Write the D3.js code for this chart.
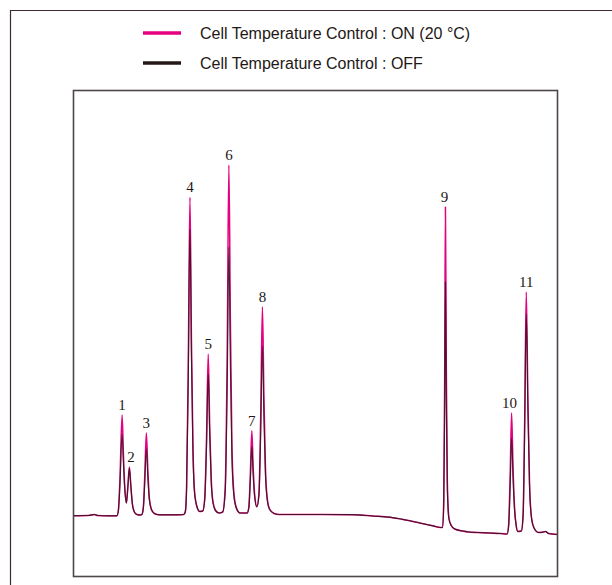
<!DOCTYPE html>
<html>
<head>
<meta charset="utf-8">
<script src="https://cdn.jsdelivr.net/npm/d3@7"></script>
<style>
  html, body { margin: 0; padding: 0; background: #ffffff; }
  svg { display: block; }
</style>
</head>
<body>
<script>
'use strict';

// retention time (min) and detector signal
const seriesNames = ['Cell Temperature Control : ON (20 °C)', 'Cell Temperature Control : OFF'];
const seriesColors = ['#e4007f', '#231815'];

// Cell Temperature Control : ON (20 °C)
const onPoints = [
  [0, 0.03], [1.5, 0.05], [1.9, 0.12], [2.1, 0.15], [2.4, 0.05], [3.5, 0.02], [4.35, 0.02],
  [4.5, 0.6], [4.65, 3.6], [4.87, 10.1], [5.0, 6.2], [5.15, 2.7], [5.3, 1.3], [5.45, 3.0], [5.6, 4.9],
  [5.75, 3.0], [5.9, 1.2], [6.1, 0.4], [6.35, 0.15], [6.7, 0.1],
  [6.85, 0.15], [7.0, 0.9], [7.15, 4.3], [7.3, 8.3], [7.45, 4.6], [7.6, 1.8], [7.8, 0.7], [8.1, 0.25], [8.6, 0.12],
  [10.5, 0.12], [11.05, 0.15],
  [11.2, 0.4], [11.33, 2.8], [11.5, 15.0], [11.67, 31.87], [11.82, 17.5], [11.97, 7.0], [12.12, 2.6], [12.35, 1.0], [12.65, 0.45],
  [12.95, 0.5], [13.15, 1.8], [13.33, 7.8], [13.5, 16.2], [13.65, 9.0], [13.8, 3.8], [13.98, 1.4], [14.25, 0.55], [14.6, 0.3],
  [14.95, 0.4], [15.2, 2.8], [15.4, 16.0], [15.57, 35.1], [15.72, 19.5], [15.87, 7.5], [16.05, 2.6], [16.3, 0.9], [16.7, 0.3],
  [17.4, 0.3], [17.57, 0.9], [17.72, 4.2], [17.87, 8.53], [18.0, 5.0], [18.15, 2.2], [18.37, 0.95],
  [18.58, 2.2], [18.76, 10.0], [18.93, 20.93], [19.08, 12.0], [19.23, 5.0], [19.4, 1.9], [19.65, 0.7], [20.1, 0.25], [20.6, 0.15],
  [22, 0.15], [25, 0.15], [28, 0.13], [30, 0.0], [31.7, -0.12], [33.3, -0.4], [34.7, -0.7], [36, -0.98], [36.8, -1.15],
  [36.98, -1.15], [37.1, 1.6], [37.19, 13.0], [37.27, 30.9], [37.36, 14.5], [37.46, 3.5], [37.62, -0.2], [37.85, -0.95],
  [38.2, -1.3], [39.0, -1.5], [39.6, -1.6], [40.5, -1.65], [41.7, -1.7], [42.8, -1.75], [43.45, -1.8],
  [43.6, -0.9], [43.76, 4.2], [43.9, 10.3], [44.04, 5.0], [44.2, 0.8], [44.37, -1.0], [44.53, -1.55],
  [44.88, -1.5], [45.05, 0.1], [45.21, 9.5], [45.37, 22.4], [45.53, 12.0], [45.7, 3.2], [45.9, -0.2], [46.15, -1.2],
  [46.6, -1.65], [47.0, -1.62], [47.3, -1.55], [47.6, -1.75], [48.5, -1.85]
];

// Cell Temperature Control : OFF
const offPoints = [
  [0, 0.03], [1.5, 0.05], [1.9, 0.12], [2.1, 0.15], [2.4, 0.05], [3.5, 0.02], [4.35, 0.02],
  [4.5, 0.55], [4.65, 3.0], [4.87, 8.2], [5.0, 5.3], [5.15, 2.5], [5.3, 1.3], [5.45, 2.9], [5.6, 4.8],
  [5.75, 2.9], [5.9, 1.2], [6.1, 0.4], [6.35, 0.15], [6.7, 0.1],
  [6.85, 0.15], [7.0, 0.8], [7.15, 3.5], [7.3, 6.7], [7.45, 3.8], [7.6, 1.6], [7.8, 0.65], [8.1, 0.25], [8.6, 0.12],
  [10.5, 0.12], [11.05, 0.15],
  [11.2, 0.4], [11.33, 2.6], [11.5, 13.6], [11.67, 28.67], [11.82, 15.8], [11.97, 6.4], [12.12, 2.4], [12.35, 1.0], [12.65, 0.45],
  [12.95, 0.5], [13.15, 1.6], [13.33, 6.9], [13.5, 14.2], [13.65, 8.0], [13.8, 3.4], [13.98, 1.3], [14.25, 0.5], [14.6, 0.3],
  [14.95, 0.4], [15.2, 2.3], [15.4, 12.6], [15.57, 26.9], [15.72, 15.2], [15.87, 6.0], [16.05, 2.2], [16.3, 0.8], [16.7, 0.3],
  [17.4, 0.3], [17.57, 0.8], [17.72, 3.5], [17.87, 6.93], [18.0, 4.1], [18.15, 1.9], [18.37, 0.9],
  [18.58, 2.0], [18.76, 8.3], [18.93, 17.0], [19.08, 9.8], [19.23, 4.2], [19.4, 1.7], [19.65, 0.65], [20.1, 0.25], [20.6, 0.15],
  [22, 0.15], [25, 0.15], [28, 0.13], [30, 0.0], [31.7, -0.12], [33.3, -0.4], [34.7, -0.7], [36, -0.98], [36.8, -1.15],
  [36.98, -1.15], [37.1, 1.1], [37.19, 9.8], [37.27, 23.4], [37.36, 11.2], [37.46, 2.7], [37.62, -0.3], [37.85, -0.95],
  [38.2, -1.3], [39.0, -1.5], [39.6, -1.6], [40.5, -1.65], [41.7, -1.7], [42.8, -1.75], [43.45, -1.8],
  [43.6, -1.1], [43.76, 3.0], [43.9, 7.8], [44.04, 3.8], [44.2, 0.5], [44.37, -1.05], [44.53, -1.55],
  [44.88, -1.5], [45.05, -0.1], [45.21, 8.5], [45.37, 20.2], [45.53, 10.8], [45.7, 2.9], [45.9, -0.25], [46.15, -1.2],
  [46.6, -1.65], [47.0, -1.62], [47.3, -1.55], [47.6, -1.75], [48.5, -1.85]
];

// peak numbers, apex times and the ON apex they sit on
const peakLabels = ['1', '2', '3', '4', '5', '6', '7', '8', '9', '10', '11'];
const peakTimes = [4.87, 5.6, 7.3, 11.67, 13.5, 15.57, 17.87, 18.93, 37.27, 43.9, 45.37];
const peakTops = [10.1, 4.9, 8.3, 31.87, 16.2, 35.1, 8.53, 20.93, 30.9, 10.3, 22.4];

(function() {
  let svgContainer = '';
  const width = 612, height = 585;
  const box = { left: 73.5, top: 90.5, right: 557.5, bottom: 576.5 };

  window.onload = function() {
    svgContainer = d3.select('body').append('svg')
      .attr('width', width)
      .attr('height', height);

    // outer frame (runs off the picture on the right and bottom)
    svgContainer.append('path')
      .attr('d', 'M10.5,' + height + 'V10.5H' + width)
      .attr('fill', 'none')
      .attr('stroke', '#3a2c30')
      .attr('stroke-width', 1.2);

    drawLegend();
    drawChart();
  };

  function drawLegend() {
    let legend = svgContainer.selectAll('.legend')
      .data(seriesNames)
      .enter()
      .append('g')
      .attr('class', 'legend')
      .attr('transform', (d, i) => 'translate(0,' + (33 + i * 30) + ')');

    legend.append('line')
      .attr('x1', 143)
      .attr('x2', 181)
      .attr('y1', 0)
      .attr('y2', 0)
      .attr('stroke', (d, i) => seriesColors[i])
      .attr('stroke-width', 3.5);

    legend.append('text')
      .attr('x', 200)
      .attr('y', 6)
      .style('font-family', 'Liberation Sans, Arial, sans-serif')
      .style('font-size', '16px')
      .style('fill', '#231815')
      .text((d) => d);
  }

  function drawChart() {
    let xScale = d3.scaleLinear()
      .domain([0, 48.5])
      .range([box.left, box.right]);

    let yScale = d3.scaleLinear()
      .domain([-6.05, 42.55])
      .range([box.bottom, box.top]);

    let line = d3.line()
      .x((d) => xScale(d[0]))
      .y((d) => yScale(d[1]))
      .curve(d3.curveMonotoneX);

    svgContainer.append('defs').append('clipPath')
      .attr('id', 'plotClip')
      .append('rect')
      .attr('x', box.left)
      .attr('y', box.top)
      .attr('width', box.right - box.left)
      .attr('height', box.bottom - box.top);

    let traces = svgContainer.append('g').attr('clip-path', 'url(#plotClip)');

    traces.append('path')
      .datum(onPoints)
      .attr('d', line)
      .attr('fill', 'none')
      .attr('stroke', seriesColors[0])
      .attr('stroke-width', 1.5)
      .attr('stroke-linejoin', 'round');

    traces.append('path')
      .datum(offPoints)
      .attr('d', line)
      .attr('fill', 'none')
      .attr('stroke', seriesColors[1])
      .attr('stroke-opacity', 0.8)
      .attr('stroke-width', 1.2)
      .attr('stroke-linejoin', 'round');

    // plot box
    svgContainer.append('rect')
      .attr('x', box.left)
      .attr('y', box.top)
      .attr('width', box.right - box.left)
      .attr('height', box.bottom - box.top)
      .attr('fill', 'none')
      .attr('stroke', '#4d4646')
      .attr('stroke-width', 1.6);

    // peak numbers
    let labelShift = { '2': 1.5, '10': -2, '9': -1 };
    svgContainer.selectAll('.peak')
      .data(peakLabels)
      .enter()
      .append('text')
      .attr('class', 'peak')
      .attr('x', (d, i) => xScale(peakTimes[i]) + (labelShift[d] || 0))
      .attr('y', (d, i) => yScale(peakTops[i]) - 5)
      .attr('text-anchor', 'middle')
      .style('font-family', 'Liberation Serif, Times New Roman, serif')
      .style('font-size', '15px')
      .style('fill', '#231815')
      .text((d) => d);
  }
})();
</script>
</body>
</html>
